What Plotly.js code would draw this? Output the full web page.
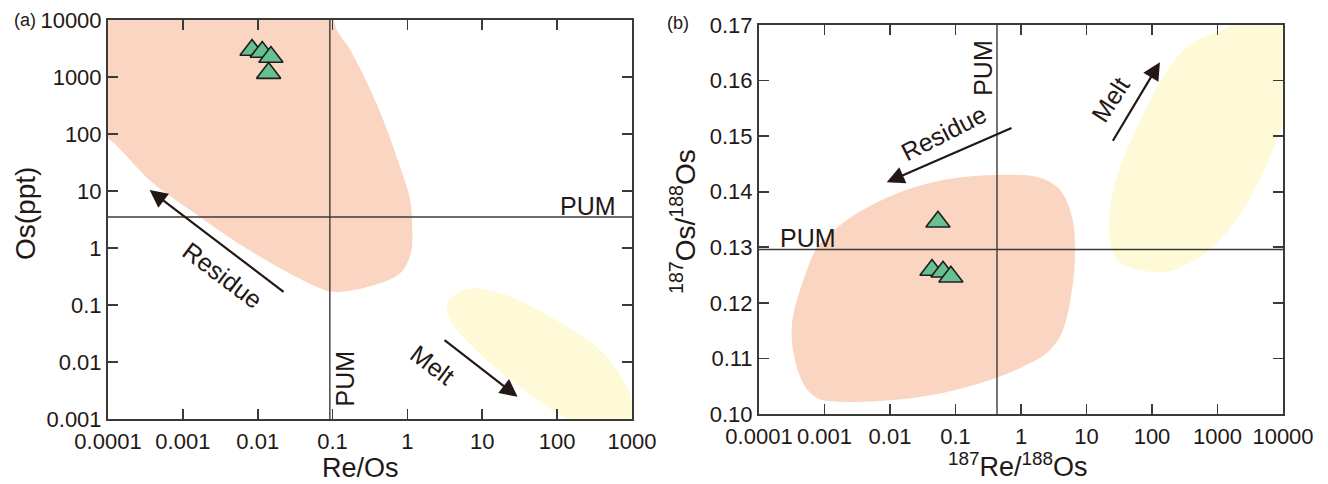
<!DOCTYPE html>
<html>
<head>
<meta charset="utf-8">
<script src="https://cdn.plot.ly/plotly-3.0.1.min.js"></script>
<style>
  html, body { margin: 0; padding: 0; background: #fff; }
  #chart { width: 1328px; height: 484px; }
</style>
</head>
<body>
<div id="chart"></div>
<script>
// ---- Panel (a): Os (ppt) vs Re/Os ----
const sampleReOs = [0.0084, 0.0115, 0.015, 0.014];
const sampleOsPpt = [2970, 2750, 2240, 1170];

// Residue field (peach), outline in data units
const residueA_x = [3e-5, 0.05, 0.088, 0.112, 0.172, 0.29, 0.505, 0.80, 1.09, 1.16, 1.12, 0.80, 0.29, 0.102, 0.062, 0.0219, 0.0047, 0.0017, 3.6e-4, 1.06e-4, 3e-5, 3e-5];
const residueA_y = [3e4, 3e4, 2.2e4, 7000, 2980, 785, 144, 26, 6.95, 2.07, 0.85, 0.36, 0.207, 0.17, 0.207, 0.41, 1.38, 3.5, 15.5, 78.5, 200, 3e4];

// Melt field (yellow)
const meltA_x = [3.4, 6.3, 17.4, 81, 378, 870, 1150, 3000, 165, 48, 10.3, 3.73, 3.4];
const meltA_y = [0.108, 0.19, 0.163, 0.062, 0.016, 0.0036, 0.0012, 0.0004, 0.0009, 0.00245, 0.0123, 0.0546, 0.108];

// Primitive upper mantle reference values
const pumReOs = 0.092;
const pumOs = 3.5;

// ---- Panel (b): 187Os/188Os vs 187Re/188Os ----
const sampleReOsIso = [0.054, 0.0438, 0.0645, 0.085];
const sampleOsIso = [0.1346, 0.1259, 0.1256, 0.1247];

const residueB_x = [7.7e-4, 0.0022, 0.0111, 0.0645, 0.374, 1.95, 3.94, 6.0, 6.7, 6.0, 4.2, 2.5, 1.07, 0.337, 0.0645, 0.0111, 0.0019, 7.7e-4, 4.7e-4, 3.3e-4, 3.2e-4, 3.8e-4, 5.4e-4, 7.7e-4];
const residueB_y = [0.1299, 0.1349, 0.1394, 0.1421, 0.1430, 0.1425, 0.1403, 0.1355, 0.1295, 0.1223, 0.1146, 0.1110, 0.1085, 0.1061, 0.1038, 0.1025, 0.1022, 0.1029, 0.1056, 0.1115, 0.1164, 0.1205, 0.1259, 0.1299];

const meltB_x = [1213, 486, 241, 119, 59, 32.5, 22.8, 22.8, 29.2, 65.6, 169, 380, 982, 2450, 4950, 8100, 12000, 14000, 3000, 1213];
const meltB_y = [0.1691, 0.1673, 0.1642, 0.1588, 0.1516, 0.1444, 0.1372, 0.1313, 0.1277, 0.1259, 0.1256, 0.1272, 0.1308, 0.1367, 0.1434, 0.1493, 0.1547, 0.1720, 0.1720, 0.1691];

const pumReOsIso = 0.43;
const pumOsIso = 0.1296;

// Tick labels
const xTicksA = [1e-4, 1e-3, 1e-2, 0.1, 1, 10, 100, 1000];
const xTickTextA = ['0.0001', '0.001', '0.01', '0.1', '1', '10', '100', '1000'];
const yTicksA = [1e-3, 1e-2, 0.1, 1, 10, 100, 1000, 10000];
const yTickTextA = ['0.001', '0.01', '0.1', '1', '10', '100', '1000', '10000'];
const xTicksB = [1e-4, 1e-3, 1e-2, 0.1, 1, 10, 100, 1000, 10000];
const xTickTextB = ['0.0001', '0.001', '0.01', '0.1', '1', '10', '100', '1000', '10000'];
const yTicksB = [0.10, 0.11, 0.12, 0.13, 0.14, 0.15, 0.16, 0.17];
const yTickTextB = ['0.10', '0.11', '0.12', '0.13', '0.14', '0.15', '0.16', '0.17'];

// Trend arrows: [tailX, tailY, headX, headY]
const arrowResidueA = [0.0232, 0.162, 3.6e-4, 10.4];
const arrowMeltA = [2.99, 0.0254, 29.6, 0.00245];
const arrowResidueB = [0.755, 0.1516, 0.0089, 0.1417];
const arrowMeltB = [24.5, 0.1489, 132, 0.1633];

const PEACH = '#fad6c2';
const YELLOW = '#fefad8';
const INK = '#231815';
const AXIS = '#3a3a3a';
const FONT = 'Liberation Sans, Arial, Helvetica, sans-serif';

const W = 1328, H = 484;
const px = v => v / W;
const py = v => 1 - v / H;
const lg = Math.log10;

function field(x, y, color, xa, ya) {
  return {
    type: 'scatter', mode: 'lines', x: x, y: y, xaxis: xa, yaxis: ya,
    fill: 'toself', fillcolor: color,
    line: { width: 0, shape: 'spline', smoothing: 1, color: color },
    hoverinfo: 'skip'
  };
}
function refLine(x, y, xa, ya) {
  return {
    type: 'scatter', mode: 'lines', x: x, y: y, xaxis: xa, yaxis: ya,
    line: { width: 1.4, color: AXIS }, hoverinfo: 'skip'
  };
}
function samples(x, y, xa, ya) {
  return {
    type: 'scatter', mode: 'markers', x: x, y: y, xaxis: xa, yaxis: ya,
    marker: { symbol: 'triangle-up', size: 21, color: '#66c08f', line: { width: 1.6, color: '#1e1e1e' } },
    cliponaxis: false
  };
}

const traces = [
  field(residueA_x, residueA_y, PEACH, 'x', 'y'),
  field(meltA_x, meltA_y, YELLOW, 'x', 'y'),
  refLine([pumReOs, pumReOs], [1e-5, 1e6], 'x', 'y'),
  refLine([1e-6, 1e5], [pumOs, pumOs], 'x', 'y'),
  samples(sampleReOs, sampleOsPpt, 'x', 'y'),

  field(residueB_x, residueB_y, PEACH, 'x2', 'y2'),
  field(meltB_x, meltB_y, YELLOW, 'x2', 'y2'),
  refLine([pumReOsIso, pumReOsIso], [0.09, 0.18], 'x2', 'y2'),
  refLine([1e-6, 1e6], [pumOsIso, pumOsIso], 'x2', 'y2'),
  samples(sampleReOsIso, sampleOsIso, 'x2', 'y2')
];

function axisStyle(extra) {
  return Object.assign({
    showgrid: false, zeroline: false, showline: true, linewidth: 2, linecolor: AXIS,
    mirror: 'ticks', ticks: 'inside', ticklen: 10, tickwidth: 1.6, tickcolor: AXIS,
    tickfont: { family: FONT, size: 22, color: INK }, tickmode: 'array', fixedrange: true
  }, extra);
}

function arrow(a, xref, yref, logY) {
  const fy = logY ? lg : (v => v);
  return {
    x: lg(a[2]), y: fy(a[3]), ax: lg(a[0]), ay: fy(a[1]),
    xref: xref, yref: yref, axref: xref, ayref: yref,
    text: '', showarrow: true, arrowhead: 2, arrowsize: 1.6, arrowwidth: 2.2,
    arrowcolor: INK, standoff: 0, startstandoff: 0
  };
}
function label(text, x, y, xref, yref, angle, size) {
  return {
    text: text, x: x, y: y, xref: xref, yref: yref, showarrow: false,
    textangle: angle || 0, xanchor: 'center', yanchor: 'middle',
    font: { family: FONT, size: size || 25, color: INK }
  };
}

const annotations = [
  arrow(arrowResidueA, 'x', 'y', true),
  arrow(arrowMeltA, 'x', 'y', true),
  arrow(arrowResidueB, 'x2', 'y2', false),
  arrow(arrowMeltB, 'x2', 'y2', false),

  label('Residue', lg(0.0034), lg(0.34), 'x', 'y', 37),
  label('Melt', lg(2.18), lg(0.0089), 'x', 'y', 37),
  label('PUM', lg(0.148), lg(0.0052), 'x', 'y', -90),
  label('PUM', lg(261), lg(5.46), 'x', 'y', 0),

  label('Residue', lg(0.0656), 0.1505, 'x2', 'y2', -27),
  label('Melt', lg(22.9), 0.1565, 'x2', 'y2', -57),
  label('PUM', lg(0.263), 0.1623, 'x2', 'y2', -90),
  label('PUM', lg(5.6e-4), 0.1317, 'x2', 'y2', 0),

  label('Re/Os', px(360), py(468), 'paper', 'paper', 0, 27),
  label('Os(ppt)', px(25), py(214), 'paper', 'paper', -90, 28),
  label('<sup>187</sup>Re/<sup>188</sup>Os', px(1018), py(465), 'paper', 'paper', 0, 27),
  label('<sup>187</sup>Os/<sup>188</sup>Os', px(683), py(221), 'paper', 'paper', -90, 28),
  label('(a)', px(25), py(20), 'paper', 'paper', 0, 18),
  label('(b)', px(678), py(23), 'paper', 'paper', 0, 18)
];

const layout = {
  width: W, height: H,
  margin: { l: 0, r: 0, t: 0, b: 0 },
  paper_bgcolor: '#ffffff', plot_bgcolor: 'rgba(0,0,0,0)',
  showlegend: false,
  font: { family: FONT, color: INK },
  xaxis: axisStyle({ type: 'log', range: [-4, 3], domain: [px(108), px(632)], anchor: 'y',
    tickvals: xTicksA, ticktext: xTickTextA, ticklabelstandoff: 2 }),
  yaxis: axisStyle({ type: 'log', range: [-3, 4], domain: [py(419), py(20)], anchor: 'x',
    tickvals: yTicksA, ticktext: yTickTextA }),
  xaxis2: axisStyle({ type: 'log', range: [-4, 4], domain: [px(759), px(1283)], anchor: 'y2',
    tickvals: xTicksB, ticktext: xTickTextB, ticklabelstandoff: 2 }),
  yaxis2: axisStyle({ type: 'linear', range: [0.10, 0.17], domain: [py(414), py(25)], anchor: 'x2',
    tickvals: yTicksB, ticktext: yTickTextB }),
  annotations: annotations
};

Plotly.newPlot('chart', traces, layout, { displayModeBar: false, staticPlot: true });
</script>
</body>
</html>
